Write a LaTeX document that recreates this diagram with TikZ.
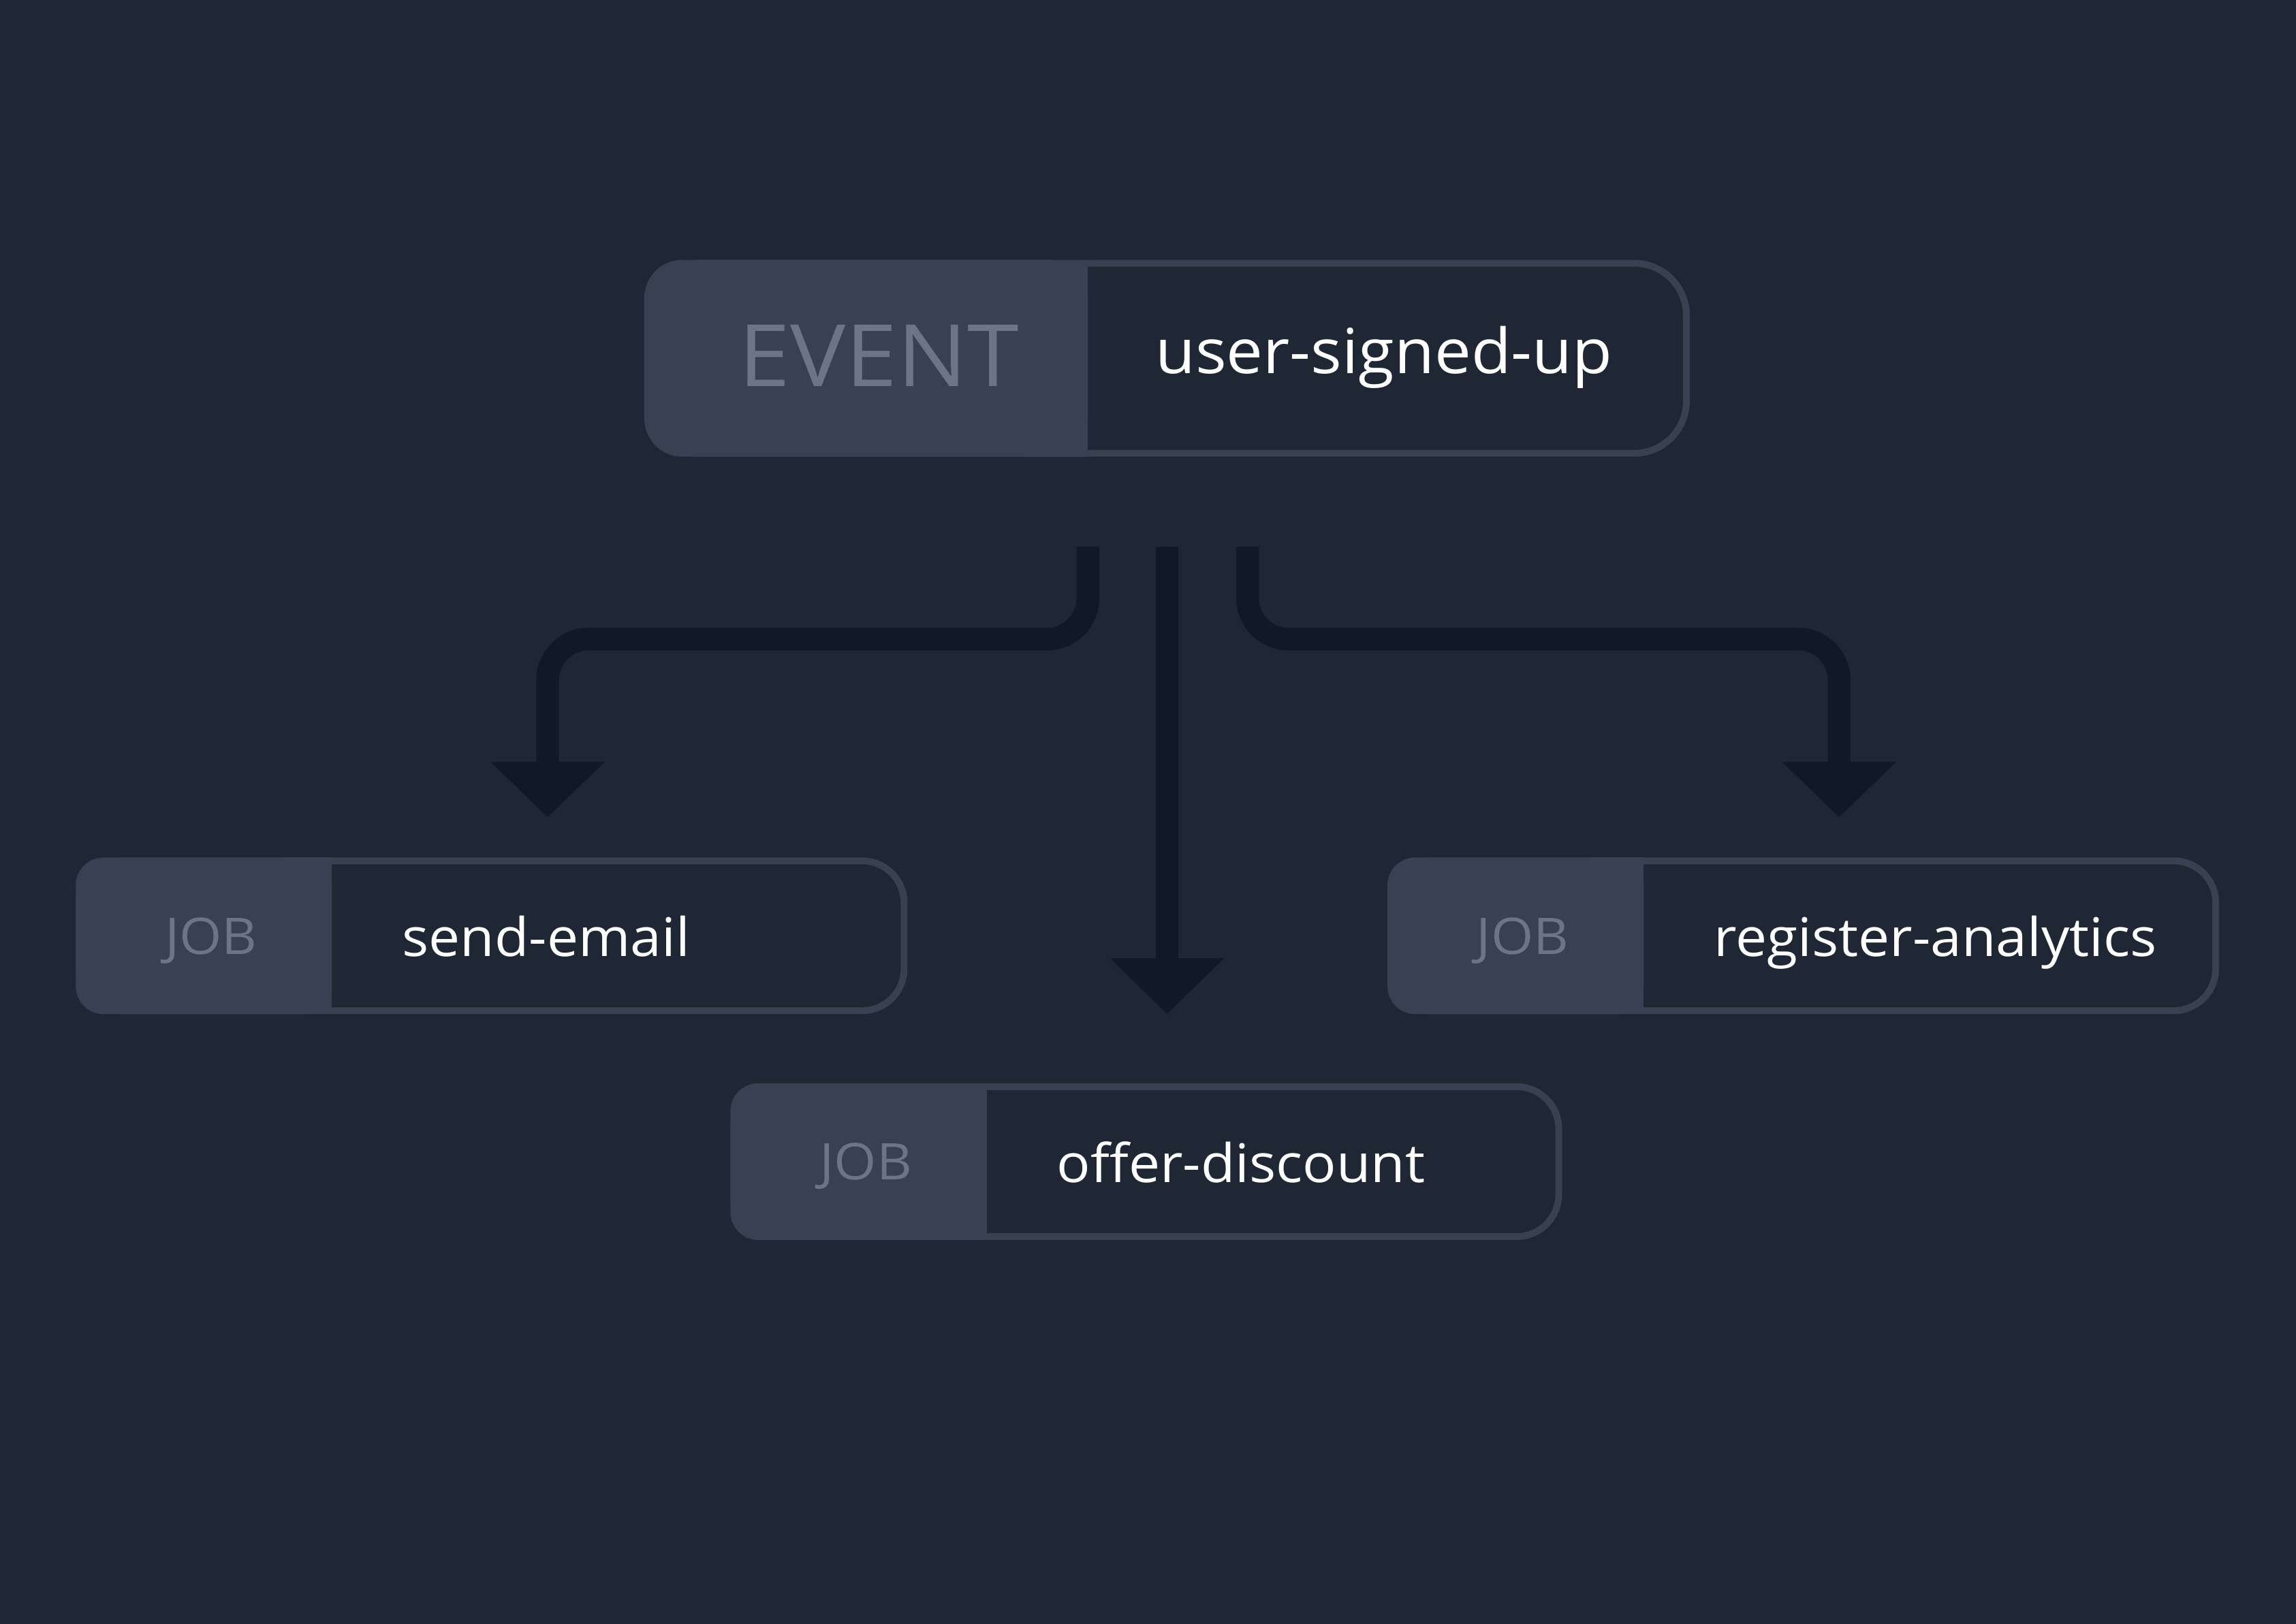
\documentclass[tikz,border=0pt]{standalone}
\usepackage{fontspec}
\setmainfont{Open Sans}
\newfontfamily\tagfont[FakeStretch=1.08]{Open Sans}
\newfontfamily\namefont[FakeStretch=1.05]{Open Sans}
\usetikzlibrary{arrows.meta}

\definecolor{canvas}{HTML}{1E2733}
\definecolor{tagfill}{HTML}{384152}
\definecolor{tagtext}{HTML}{6B7585}
\definecolor{flowline}{HTML}{111827}

\tikzset{
  eventbox/.style={draw=tagfill, fill=canvas, line width=4.65pt, rounded corners=35.7pt,
    minimum width=709.35pt, minimum height=129.85pt, inner sep=0pt},
  jobbox/.style={draw=tagfill, fill=canvas, line width=4.65pt, rounded corners=28.7pt,
    minimum width=563.35pt, minimum height=102.35pt, inner sep=0pt},
  tagname/.style={text=tagtext, inner sep=0pt, outer sep=0pt, anchor=base east},
  jobname/.style={text=white, inner sep=0pt, outer sep=0pt, anchor=base west},
  flow/.style={draw=flowline, line width=15.5pt, rounded corners=28pt,
    -{Triangle[width=75.6pt,length=38pt]}},
}

\begin{document}
\begin{tikzpicture}[x=1pt,y=1pt]
  % Background
  \useasboundingbox (0,0) rectangle (1568,1109);
  \fill[canvas] (-10,-10) rectangle (1578,1119);

  % Event box
  \node[eventbox] (event) at (797,864.25) {};
  \fill[tagfill, rounded corners=26pt] (event.south west) rectangle ([xshift=303pt]event.north west);
  \fill[tagfill] ([xshift=260pt]event.south west) rectangle ([xshift=303pt]event.north west);
  \node[tagname, font=\tagfont\fontsize{58.8pt}{60pt}\selectfont] (eventtag)
    at ([xshift=256pt,yshift=-19.25pt]event.west) {EVENT};
  \node[jobname, font=\namefont\fontsize{42.5pt}{46pt}\selectfont] (eventname)
    at ([xshift=349pt,yshift=-10.25pt]event.west) {user-signed-up};

  % Job boxes
  \node[jobbox] (send) at (335.75,469.75) {};
  \fill[tagfill, rounded corners=19pt] (send.south west) rectangle ([xshift=175pt]send.north west);
  \fill[tagfill] ([xshift=140pt]send.south west) rectangle ([xshift=175pt]send.north west);
  \node[tagname, font=\tagfont\fontsize{34.5pt}{36pt}\selectfont] (sendtag)
    at ([xshift=124pt,yshift=-12.5pt]send.west) {JOB};
  \node[jobname, font=\namefont\fontsize{36.4pt}{40pt}\selectfont] (sendname)
    at ([xshift=223pt,yshift=-14pt]send.west) {send-email};

  \node[jobbox] (register) at (1231.5,469.75) {};
  \fill[tagfill, rounded corners=19pt] (register.south west) rectangle ([xshift=175pt]register.north west);
  \fill[tagfill] ([xshift=140pt]register.south west) rectangle ([xshift=175pt]register.north west);
  \node[tagname, font=\tagfont\fontsize{34.5pt}{36pt}\selectfont] (registertag)
    at ([xshift=124pt,yshift=-12.5pt]register.west) {JOB};
  \node[jobname, font=\namefont\fontsize{36.4pt}{40pt}\selectfont] (registername)
    at ([xshift=223pt,yshift=-14pt]register.west) {register-analytics};

  \node[jobbox] (offer) at (782.8,315.5) {};
  \fill[tagfill, rounded corners=19pt] (offer.south west) rectangle ([xshift=175pt]offer.north west);
  \fill[tagfill] ([xshift=140pt]offer.south west) rectangle ([xshift=175pt]offer.north west);
  \node[tagname, font=\tagfont\fontsize{34.5pt}{36pt}\selectfont] (offertag)
    at ([xshift=124pt,yshift=-12.5pt]offer.west) {JOB};
  \node[jobname, font=\namefont\fontsize{36.4pt}{40pt}\selectfont] (offername)
    at ([xshift=223pt,yshift=-14pt]offer.west) {offer-discount};

  % Arrows from the event to the jobs
  \coordinate (forkleft) at ([xshift=-54pt,yshift=-61.5pt]event.south);
  \coordinate (forkmid) at ([yshift=-61.5pt]event.south);
  \coordinate (forkright) at ([xshift=55pt,yshift=-61.5pt]event.south);
  \coordinate (endleft) at ([xshift=38.25pt,yshift=27.35pt]send.north);
  \path (forkmid |- offer.north) ++(0,47.4) coordinate (endmid);
  \coordinate (endright) at ([xshift=24.5pt,yshift=27.35pt]register.north);

  \draw[flow] (forkleft) -- ++(0,-63.1) -| (endleft);
  \draw[flow] (forkmid) -- (endmid);
  \draw[flow] (forkright) -- ++(0,-63.1) -| (endright);
\end{tikzpicture}
\end{document}
